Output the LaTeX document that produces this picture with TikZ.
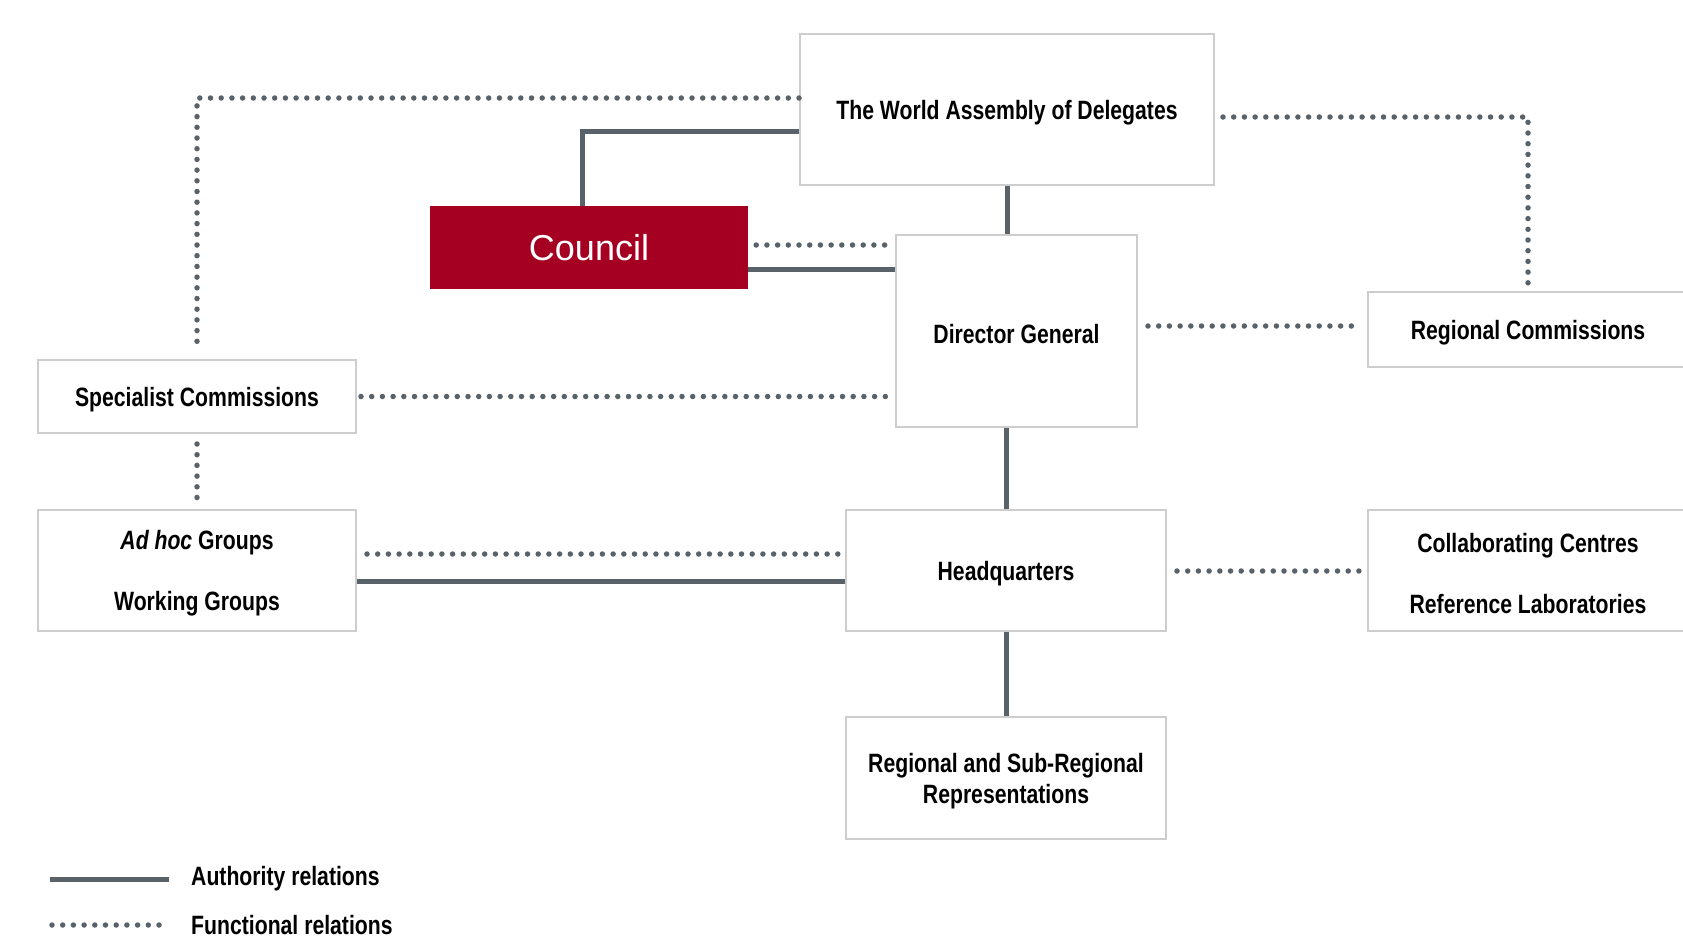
\documentclass[tikz,border=0pt]{standalone}
\usepackage{fontspec}
\newfontfamily\orgfont[FakeStretch=0.8]{Liberation Sans}
\newfontfamily\councilfont{Liberation Sans}
\definecolor{linegray}{RGB}{88,98,104}
\definecolor{boxgray}{RGB}{205,205,205}
\definecolor{councilred}{RGB}{165,0,33}
\newcommand\orgstrut{\rule{0pt}{25.5pt}}

\begin{document}
\begin{tikzpicture}[x=1pt,y=-1pt,
	org_box/.style={draw=boxgray,line width=2pt,fill=white,inner sep=0pt,align=center,font=\orgfont\bfseries\fontsize{26.5}{31}\selectfont},
	council_box/.style={fill=councilred,text=white,inner sep=0pt,minimum width=318pt,minimum height=83pt,font=\councilfont\fontsize{36}{40}\selectfont},
	legend_text/.style={anchor=west,inner sep=0pt,font=\orgfont\bfseries\fontsize{26.5}{31}\selectfont},
	authority/.style={draw=linegray,line width=5pt},
	functional/.style={draw=linegray,line width=5.5pt,line cap=round,dash pattern=on 0pt off 10.7pt}]
	\useasboundingbox[fill=white] (0,0) rectangle (1683,940);

	\node[org_box,minimum width=414pt,minimum height=151pt] (wad) at (1007,109.5) {\orgstrut The World Assembly of Delegates};
	\node[council_box] (council) at (589,247.5) {Council};
	\node[org_box,minimum width=241pt,minimum height=192pt] (dg) at (1016.5,331) {\orgstrut Director General};
	\node[org_box,minimum width=320pt,minimum height=75pt] (regc) at (1528,329.5) {\orgstrut Regional Commissions};
	\node[org_box,minimum width=318pt,minimum height=73pt] (spec) at (197,396.5) {\orgstrut Specialist Commissions};
	\node[org_box,minimum width=318pt,minimum height=121pt] (adhoc) at (197,570.5) {\orgstrut\textit{Ad hoc} Groups\\[30pt]Working Groups};
	\node[org_box,minimum width=320pt,minimum height=121pt] (hq) at (1006,570.5) {\orgstrut Headquarters};
	\node[org_box,minimum width=320pt,minimum height=121pt] (collab) at (1528,570.5) {\orgstrut Collaborating Centres\\[30pt]Reference Laboratories};
	\node[org_box,minimum width=320pt,minimum height=122pt] (regsub) at (1006,778) {\orgstrut Regional and Sub-Regional\\Representations};

	\coordinate (wad_l1) at (wad.west |- 0,98);
	\coordinate (wad_l2) at (wad.west |- 0,131);
	\coordinate (wad_r) at (wad.east |- 0,117);
	\coordinate (c_top) at (582,0);

	% authority relations
	\draw[authority] (wad_l2) -| (c_top |- council.north);
	\draw[authority] (council.east |- 0,269) -- (dg.west |- 0,269);
	\draw[authority] (wad.south) -- (wad.south |- dg.north);
	\draw[authority] (hq.north |- dg.south) -- (hq.north);
	\draw[authority] (hq.south) -- (regsub.north);
	\draw[authority] (adhoc.east |- 0,581) -- (hq.west |- 0,581);

	% functional relations
	\draw[functional] (wad_l1) -| ([yshift=12pt]spec.north);
	\draw[functional] ([xshift=8pt]wad_r) -| ([yshift=8pt]regc.north);
	\draw[functional] ([xshift=8pt]council.east |- 0,245) -- ([xshift=-6pt]dg.west |- 0,245);
	\draw[functional] ([xshift=10pt]dg.east |- 0,326) -- ([xshift=-6pt]regc.west |- 0,326);
	\draw[functional] ([xshift=4pt]spec.east) -- ([xshift=-4pt]spec.east -| dg.west);
	\draw[functional] ([yshift=-10pt]spec.south) -- ([yshift=10pt]adhoc.north);
	\draw[functional] ([xshift=10pt]adhoc.east |- 0,554) -- ([xshift=-6pt]hq.west |- 0,554);
	\draw[functional] ([xshift=10pt]hq.east |- 0,571) -- ([xshift=-6pt]collab.west |- 0,571);

	% legend
	\coordinate (leg_a) at (50,879);
	\coordinate (leg_f) at (52,925);
	\node[legend_text] (auth_txt) at (191,879) {Authority relations};
	\node[legend_text] (func_txt) at (191,925) {Functional relations};
	\draw[authority] (leg_a) -- ([xshift=-22pt]auth_txt.west);
	\draw[functional] (leg_f) -- ([xshift=-22pt]func_txt.west);
\end{tikzpicture}
\end{document}
